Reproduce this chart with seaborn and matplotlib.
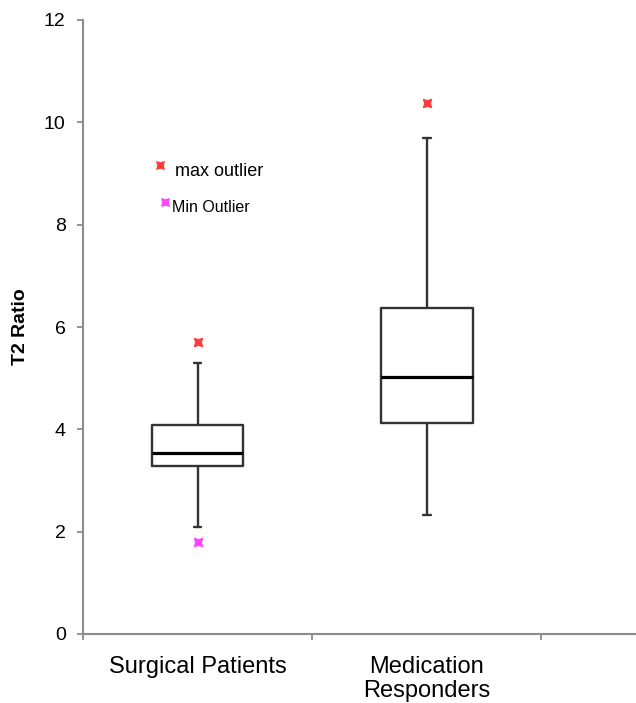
import numpy as np
import pandas as pd
import matplotlib
matplotlib.use("Agg")
import matplotlib.pyplot as plt
from matplotlib.ticker import FixedLocator
import seaborn as sns

# ---- data ----
categories = ["Surgical Patients", "Medication\nResponders"]
# five-number summaries: lower whisker, Q1, median, Q3, upper whisker
surgical_summary = [2.09, 3.28, 3.54, 4.08, 5.30]
medication_summary = [2.33, 4.13, 5.02, 6.37, 9.69]
max_outliers = [5.71, 10.38]
min_outliers = [1.80, None]
y_ticks = [0, 2, 4, 6, 8, 10, 12]
legend_labels = ["max outlier", "Min Outlier"]
y_label = "T2 Ratio"

sns.set_theme(style="white")
plt.rcParams["font.family"] = ["Liberation Sans", "DejaVu Sans"]
plt.rcParams["text.color"] = "black"
plt.rcParams["axes.labelcolor"] = "black"
plt.rcParams["xtick.color"] = "black"
plt.rcParams["ytick.color"] = "black"

df = pd.DataFrame({
    "group": [categories[0]] * len(surgical_summary) + [categories[1]] * len(medication_summary),
    "value": surgical_summary + medication_summary,
})

fig = plt.figure(figsize=(6.36, 7.03), dpi=100)
ax = fig.add_axes([83 / 636, 1 - 634 / 703, (636 - 83) / 636, (634 - 20) / 703])

box_color = "#333333"
sns.boxplot(data=df, x="group", y="value", order=categories, ax=ax,
            whis=(0, 100), width=0.4, fill=False, color=box_color,
            linewidth=1.7, showfliers=False,
            medianprops=dict(color="black", linewidth=2.3))

# narrow whisker caps
for cont in ax.containers:
    caps = getattr(cont, "caps", None)
    if caps is None:
        continue
    for cap in caps:
        xd = np.asarray(cap.get_xdata(), dtype=float)
        mid = xd.mean()
        cap.set_xdata([mid - 0.017, mid + 0.017])
    for art in list(getattr(cont, "whiskers", [])) + list(caps):
        art.set_color(box_color)

# outliers
red = "#ff3b3b"
mag = "#ff44ff"
star = (4, 1, 45)
out_df_max = pd.DataFrame({"group": categories, "value": max_outliers})
out_df_min = pd.DataFrame({"group": [c for c, v in zip(categories, min_outliers) if v is not None],
                           "value": [v for v in min_outliers if v is not None]})
sns.scatterplot(data=out_df_max, x="group", y="value", ax=ax, marker=star, s=70,
                color=red, edgecolor=red, linewidth=0.8, zorder=5)
sns.scatterplot(data=out_df_min, x="group", y="value", ax=ax, marker=star, s=70,
                color=mag, edgecolor=mag, linewidth=0.8, zorder=5)

# in-plot legend
ax.scatter([-0.166], [9.17], marker=star, s=60, color=red, linewidths=0.8, zorder=5)
ax.text(-0.10, 9.04, legend_labels[0], fontsize=13, va="center", ha="left", color="black")
ax.scatter([-0.144], [8.45], marker=star, s=60, color=mag, linewidths=0.8, zorder=5)
ax.text(-0.112, 8.34, legend_labels[1], fontsize=11.5, va="center", ha="left", color="black")

ax.set_xlim(-0.5, 1.913)
ax.set_ylim(0, 12)
ax.set_yticks(y_ticks)
ax.set_yticklabels([str(t) for t in y_ticks])
ax.set_xticks([0, 1])
ax.set_xticklabels(categories)
ax.xaxis.set_minor_locator(FixedLocator([-0.5, 0.5, 1.5]))

spine_color = "#8c8c8c"
for s in ["top", "right"]:
    ax.spines[s].set_visible(False)
for s in ["left", "bottom"]:
    ax.spines[s].set_color(spine_color)
    ax.spines[s].set_linewidth(1.5)

ax.tick_params(axis="y", which="major", direction="out", length=4.5, width=1.3,
               color=spine_color, labelcolor="black", labelsize=14, pad=8, left=True)
ax.tick_params(axis="x", which="major", length=0, labelsize=17, pad=16, labelcolor="black")
ax.tick_params(axis="x", which="minor", direction="out", length=4.5, width=1.3,
               color=spine_color, bottom=True)
plt.setp(ax.get_xticklabels(), linespacing=1.1)

ax.set_xlabel("")
ax.set_ylabel(y_label, fontsize=14, fontweight="bold", labelpad=11, color="black")

fig.savefig("out.png", dpi=100)
